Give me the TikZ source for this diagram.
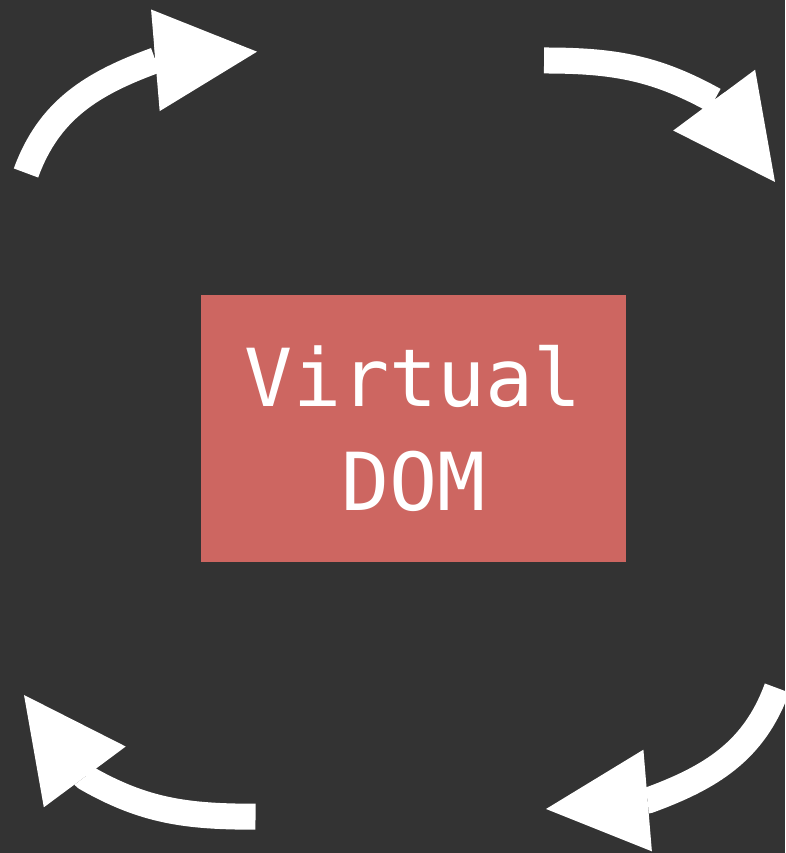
\documentclass[tikz,border=0pt]{standalone}
\usepackage{fontspec}
\newfontfamily\vdommono{DejaVu Sans Mono}
\usetikzlibrary{arrows.meta}
\definecolor{slate}{RGB}{51,51,51}
\definecolor{vdomred}{RGB}{205,102,97}
\begin{document}
\begin{tikzpicture}[x=1pt,y=1pt,
    turnarrow/.style={white,line width=26pt,line join=round,-{Triangle[length=102pt,width=102pt,line width=0pt]}},
    vbox/.style={fill=vdomred,text=white,minimum width=425pt,minimum height=267pt,inner sep=0pt,align=center,font={\vdommono\fontsize{80}{104}\selectfont}}]
      \useasboundingbox (0,0) rectangle (785,853);
      \fill[slate] (0,0) rectangle (785,853);
      \clip (0,0) rectangle (785,853);
      \node[vbox] (vdom) at (413.5,424.5) {Virtual\\DOM};
      \coordinate (tl-a) at (26,680);
      \coordinate (tl-m) at (155.5,792.7);
      \coordinate (tl-b) at (257,801.3);
      \coordinate (tr-a) at (544,792.5);
      \coordinate (tr-m) at (714.3,752.7);
      \coordinate (tr-b) at (775,671);
      \coordinate (br-a) at (777,165);
      \coordinate (br-m) at (648,52.5);
      \coordinate (br-b) at (546,44);
      \coordinate (bl-a) at (255.5,36.3);
      \coordinate (bl-m) at (85,75.8);
      \coordinate (bl-b) at (24,158);
      \draw[turnarrow] (tl-a) to[out=70,in=200] (tl-m) -- (tl-b);
      \draw[turnarrow] (tr-a) to[out=0,in=151] (tr-m) -- (tr-b);
      \draw[turnarrow] (br-a) to[out=250,in=20] (br-m) -- (br-b);
      \draw[turnarrow] (bl-a) to[out=180,in=-30] (bl-m) -- (bl-b);
    \end{tikzpicture}
\end{document}
